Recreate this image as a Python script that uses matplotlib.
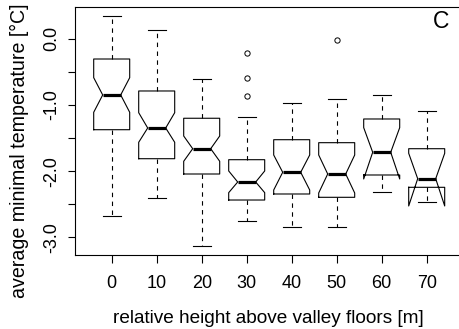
import numpy as np
import matplotlib
matplotlib.use("Agg")
import matplotlib.pyplot as plt

plt.rcParams['font.family'] = ['Liberation Sans', 'DejaVu Sans']

# relative height classes (m)
heights = ["0", "10", "20", "30", "40", "50", "60", "70"]

# box statistics (deg C)
whishi = [0.338, 0.127, -0.608, -1.178, -0.976, -0.915, -0.850, -1.092]
q3 = [-0.307, -0.790, -1.202, -1.828, -1.526, -1.571, -1.213, -1.662]
med = [-0.850, -1.349, -1.662, -2.165, -2.018, -2.044, -1.716, -2.115]
q1 = [-1.375, -1.813, -2.044, -2.437, -2.346, -2.396, -2.059, -2.245]
whislo = [-2.678, -2.411, -3.127, -2.754, -2.840, -2.840, -2.320, -2.471]
cihi = [-0.589, -1.118, -1.470, -1.998, -1.757, -1.757, -1.344, -1.731]
cilo = [-1.112, -1.565, -1.852, -2.326, -2.286, -2.331, -2.119, -2.527]
fliers = [[], [], [], [-0.211, -0.589, -0.861], [], [-0.024], [], []]

yticks = [-3.0, -2.5, -2.0, -1.5, -1.0, -0.5, 0.0]
ytick_labels = ["-3.0", "", "-2.0", "", "-1.0", "", "0.0"]

stats = []
for i in range(len(heights)):
    stats.append(dict(med=med[i], q1=q1[i], q3=q3[i], whislo=whislo[i],
                      whishi=whishi[i], cilo=cilo[i], cihi=cihi[i],
                      fliers=fliers[i]))

W, H = 459, 329
fig = plt.figure(figsize=(W / 100, H / 100), dpi=100)
ax = fig.add_axes([74.8 / W, 1 - 254.9 / H, 388.8 / W, 247.8 / H])

lw = 0.8
ax.bxp(stats, positions=np.arange(1, 9), widths=0.8, capwidths=0.4,
       shownotches=True,
       boxprops=dict(color='black', linewidth=lw),
       medianprops=dict(color='black', linewidth=2.3, solid_capstyle='butt'),
       whiskerprops=dict(color='black', linewidth=lw, linestyle=(0, (4, 4))),
       capprops=dict(color='black', linewidth=lw),
       flierprops=dict(marker='o', markersize=3.8, markerfacecolor='none',
                       markeredgecolor='black', markeredgewidth=0.7))

ax.set_xlim(0.18, 8.82)
ax.set_ylim(-3.266, 0.477)
ax.set_xticks(np.arange(1, 9))
ax.set_xticklabels(heights)
ax.set_yticks(yticks)
ax.set_yticklabels(ytick_labels, rotation=90, va='center')
ax.tick_params(axis='both', direction='out', length=5.4, width=lw,
               labelsize=13, colors='black')
ax.tick_params(axis='x', pad=9.2)
ax.tick_params(axis='y', pad=5)
for s in ax.spines.values():
    s.set_linewidth(lw)

fig.text(19 / W, 1 - 150.5 / H, "average minimal temperature [°C]",
         rotation=90, ha='center', va='center', fontsize=14.1)
fig.text(268 / W, 1 - 323.3 / H, "relative height above valley floors [m]",
         ha='center', va='baseline', fontsize=13.7)
fig.text(441 / W, 1 - 28.3 / H, "C", ha='center', va='baseline', fontsize=16.5)

fig.savefig("out.png", dpi=100)
